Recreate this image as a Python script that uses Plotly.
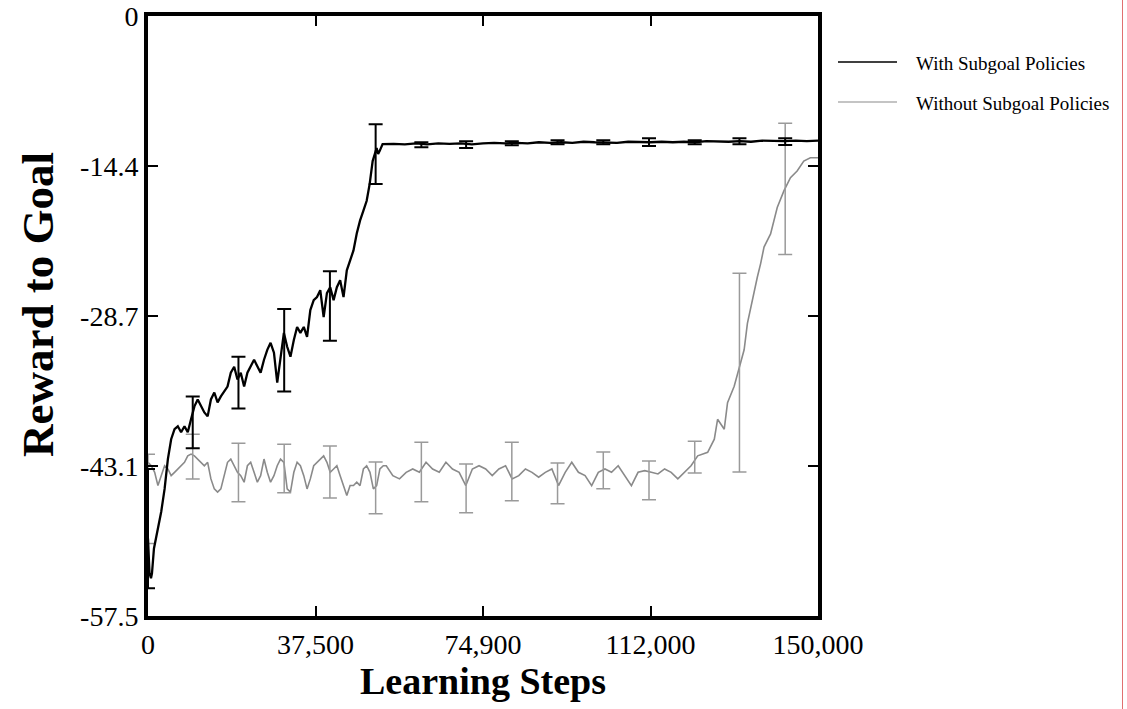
import plotly.graph_objects as go

# ---- mean reward curves -------------------------------------------------
with_steps = [0, 334, 668, 890, 1335, 2226, 2960, 3717, 4451, 5185, 5942, 6677, 7411, 8168,
              8902, 9636, 10393, 11128, 11862, 12619, 13353, 14087, 14844, 15579, 16313,
              17804, 18538, 19295, 20030, 20764, 21521, 22255, 23746, 25215, 25972, 26706,
              27440, 28197, 28932, 29666, 30423, 31157, 31891, 32648, 33383, 34117, 34874,
              35608, 36343, 37100, 37834, 38568, 39325, 40059, 40794, 41551, 42285, 43019,
              43776, 44510, 45245, 46002, 46736, 47470, 48227, 48961, 49629, 50296, 51187,
              51520, 51854, 52522, 55000, 57500, 60000, 62500, 65000, 67500, 70000, 72500,
              75000, 77500, 80000, 82500, 85000, 87500, 90000, 92500, 95000, 97500, 100000,
              102500, 105000, 107500, 110000, 112500, 115000, 117500, 120000, 122500, 125000,
              127500, 130000, 132500, 135000, 137500, 140000, 142500, 145000, 147500, 150000]
with_reward = [-50.08, -53.41, -53.88, -53.41, -51.03, -49.12, -47.51, -45.32, -42.46, -40.56,
               -39.60, -39.32, -39.89, -39.32, -39.89, -38.65, -37.41, -36.75, -37.41, -37.99,
               -38.37, -36.75, -36.08, -37.03, -36.46, -35.51, -34.18, -33.61, -34.84, -34.18,
               -35.51, -34.18, -32.94, -34.18, -32.94, -31.99, -31.32, -32.27, -35.13, -32.65,
               -30.37, -31.70, -32.65, -31.04, -29.80, -30.37, -29.80, -30.75, -28.18, -27.23,
               -26.94, -26.28, -28.85, -26.56, -25.99, -27.23, -25.99, -25.32, -26.94, -24.37,
               -23.42, -22.47, -20.85, -19.61, -18.66, -17.71, -16.09, -13.90, -12.66, -13.23,
               -12.95, -12.28, -12.25, -12.30, -12.20, -12.30, -12.20, -12.25, -12.20, -12.30,
               -12.20, -12.15, -12.20, -12.15, -12.20, -12.10, -12.15, -12.10, -12.15, -12.05,
               -12.10, -12.10, -12.15, -12.05, -12.10, -12.10, -12.05, -12.10, -12.05, -12.10,
               -12.00, -12.05, -12.05, -12.00, -12.05, -11.95, -12.00, -12.00, -11.95, -12.00,
               -11.95]

without_steps = [0, 734, 1491, 2226, 2960, 3717, 4451, 5185, 5942, 6677, 7411, 8168, 8902, 9636,
                 10393, 11128, 11862, 12619, 13353, 14087, 14844, 15579, 16313, 17070, 17804,
                 18538, 19295, 20030, 20764, 21521, 22255, 22989, 23746, 24481, 25215, 25972,
                 26706, 27440, 28197, 28932, 29666, 30423, 31157, 31891, 32648, 33383, 34117,
                 34874, 35608, 36343, 37100, 37834, 38568, 39325, 40059, 40794, 41551, 42285,
                 43019, 43776, 44510, 45245, 46002, 46736, 47470, 48227, 48961, 49696, 50453,
                 51187, 51921, 52678, 53346, 54814, 56305, 57796, 59265, 60756, 62247, 63716,
                 65207, 66698, 68167, 69658, 71149, 72618, 74109, 75600, 77069, 78560, 80051,
                 81520, 83011, 84502, 85971, 87462, 88953, 90422, 91913, 93404, 94873, 96364,
                 97855, 99324, 100815, 102306, 103775, 105266, 106757, 108226, 109717, 111208,
                 112677, 114168, 115659, 117128, 118619, 120110, 121579, 123070, 125296, 126787,
                 127521, 129012, 129747, 131238, 132706, 133463, 134197, 134932, 136423, 137157,
                 137914, 139383, 140140, 140874, 142365, 143834, 145325, 146816, 148285, 150000]
without_reward = [-42.77, -43.10, -43.73, -45.00, -44.05, -43.10, -43.41, -44.05, -43.73, -43.41,
                  -43.10, -42.77, -42.15, -41.98, -42.15, -42.46, -42.77, -43.10, -42.77, -44.36,
                  -45.32, -45.63, -45.32, -44.05, -42.77, -42.46, -43.10, -43.73, -44.05, -44.68,
                  -43.10, -42.77, -43.73, -44.68, -44.05, -42.46, -43.73, -44.68, -44.05, -43.10,
                  -42.46, -42.77, -45.32, -45.63, -43.73, -42.77, -43.10, -44.05, -45.32, -44.36,
                  -43.10, -42.77, -42.46, -42.15, -42.77, -43.73, -43.41, -43.10, -44.05, -45.00,
                  -45.95, -45.00, -45.00, -44.68, -45.00, -43.41, -43.10, -43.73, -45.32, -45.00,
                  -43.41, -43.10, -43.10, -44.05, -44.36, -43.73, -43.41, -43.73, -42.77, -43.41,
                  -43.73, -42.77, -43.41, -43.73, -45.00, -43.41, -43.10, -43.41, -44.05, -43.41,
                  -43.10, -44.36, -44.05, -43.41, -43.73, -44.20, -43.73, -43.41, -45.00, -43.73,
                  -42.77, -43.73, -44.05, -45.00, -43.73, -43.41, -43.73, -43.10, -44.05, -45.00,
                  -43.73, -43.57, -43.73, -43.89, -43.41, -43.73, -44.36, -43.73, -43.10, -42.15,
                  -41.82, -40.56, -38.65, -39.60, -37.06, -35.48, -33.25, -31.99, -29.45, -27.87,
                  -25.01, -23.73, -22.15, -20.88, -19.61, -18.35, -16.76, -15.49, -14.85, -13.90,
                  -13.59, -13.59]

# ---- error bars (mean and half-width at each checkpoint) -----------------
bar_steps = [0, 10015, 20252, 30490, 40727, 50964, 61201, 71216, 81453, 91691, 101928,
             112165, 122403, 132417, 142655]
with_bar_mean = [-49.12, -38.94, -35.13, -32.04, -27.80, -13.23, -12.33, -12.33, -12.19,
                 -12.09, -12.09, -12.09, -12.09, -12.00, -12.04]
with_bar_err = [5.71, 2.48, 2.48, 3.95, 3.33, 2.86, 0.24, 0.33, 0.19, 0.19, 0.19, 0.38,
                0.19, 0.29, 0.33]
without_bar_mean = [-46.27, -42.22, -43.75, -43.36, -43.70, -45.22, -43.70, -45.27, -43.65,
                    -44.79, -43.55, -44.51, -42.27, -34.18, -16.57]
without_bar_err = [4.28, 2.14, 2.81, 2.33, 2.48, 2.48, 2.86, 2.33, 2.81, 1.95, 1.76, 1.86,
                   1.52, 9.52, 6.28]

x_tick_vals = [0, 37500, 75000, 112500, 150000]
x_tick_text = ["0", "37,500", "74,900", "112,000", "150,000"]
y_tick_vals = [0, -14.375, -28.75, -43.125, -57.5]
y_tick_text = ["0", "-14.4", "-28.7", "-43.1", "-57.5"]

series_names = ["With Subgoal Policies", "Without Subgoal Policies"]
BLACK = "#000000"
GRAY = "#8a8a8a"
GRAY_BAR = "#9a9a9a"
SERIF = "Liberation Serif, Times New Roman, serif"

# plot-area placement in pixels
W, H = 1127, 709
PLOT_L, PLOT_R, PLOT_T, PLOT_B = 148, 818, 16, 616

fig = go.Figure()

fig.add_trace(go.Scatter(x=without_steps, y=without_reward, mode="lines",
                         line=dict(color=GRAY, width=1.6), name=series_names[1]))
fig.add_trace(go.Scatter(x=bar_steps, y=without_bar_mean, mode="markers",
                         marker=dict(size=1, color="rgba(0,0,0,0)"),
                         error_y=dict(type="data", array=without_bar_err, color=GRAY_BAR,
                                      thickness=1.5, width=7)))
fig.add_trace(go.Scatter(x=with_steps, y=with_reward, mode="lines",
                         line=dict(color=BLACK, width=2.3), name=series_names[0]))
fig.add_trace(go.Scatter(x=bar_steps, y=with_bar_mean, mode="markers",
                         marker=dict(size=1, color="rgba(0,0,0,0)"),
                         error_y=dict(type="data", array=with_bar_err, color=BLACK,
                                      thickness=2, width=7)))

axis_common = dict(showgrid=False, zeroline=False, showline=True, linecolor="black",
                   linewidth=4, mirror="allticks", ticks="inside", ticklen=10,
                   tickwidth=2, tickcolor="black", automargin=False,
                   tickfont=dict(family=SERIF, size=28, color="black"))

fig.update_xaxes(range=[0, 150000], tickvals=x_tick_vals, ticktext=x_tick_text,
                 title=dict(text="<b>Learning Steps</b>",
                            font=dict(family=SERIF, size=38, color="black"), standoff=10),
                 **axis_common)
fig.update_yaxes(range=[-57.5, 0], tickvals=y_tick_vals, ticktext=y_tick_text,
                 **axis_common)


def px_x(px):
    return (px - PLOT_L) / (PLOT_R - PLOT_L)


def px_y(py):
    return (PLOT_B - py) / (PLOT_B - PLOT_T)


annotations = [
    # vertical axis title
    dict(xref="paper", yref="paper", x=px_x(38), y=px_y(305), text="<b>Reward to Goal</b>",
         textangle=-90, showarrow=False, xanchor="center", yanchor="middle",
         font=dict(family=SERIF, size=45, color="black")),
]

# legend drawn at the right of the frame
legend_rows = [(62, BLACK, 1.6), (102, GRAY, 1.2)]
shapes = []
for (ypix, col, lw), label in zip(legend_rows, series_names):
    shapes.append(dict(type="line", xref="paper", yref="paper",
                       x0=px_x(838), x1=px_x(897), y0=px_y(ypix), y1=px_y(ypix),
                       line=dict(color=col, width=lw)))
    annotations.append(dict(xref="paper", yref="paper", x=px_x(914), y=px_y(ypix + 1),
                            text=label, showarrow=False, xanchor="left", yanchor="middle",
                            font=dict(family=SERIF, size=19, color="black")))

# thin red page rule at the far right
shapes.append(dict(type="line", xref="paper", yref="paper",
                   x0=px_x(1122.5), x1=px_x(1122.5), y0=px_y(H), y1=px_y(0),
                   line=dict(color="#e07070", width=1)))

fig.update_layout(width=W, height=H, showlegend=False,
                  paper_bgcolor="white", plot_bgcolor="white",
                  margin=dict(l=PLOT_L, r=W - PLOT_R, t=PLOT_T, b=H - PLOT_B),
                  shapes=shapes, annotations=annotations)

fig.write_html("out.html")
